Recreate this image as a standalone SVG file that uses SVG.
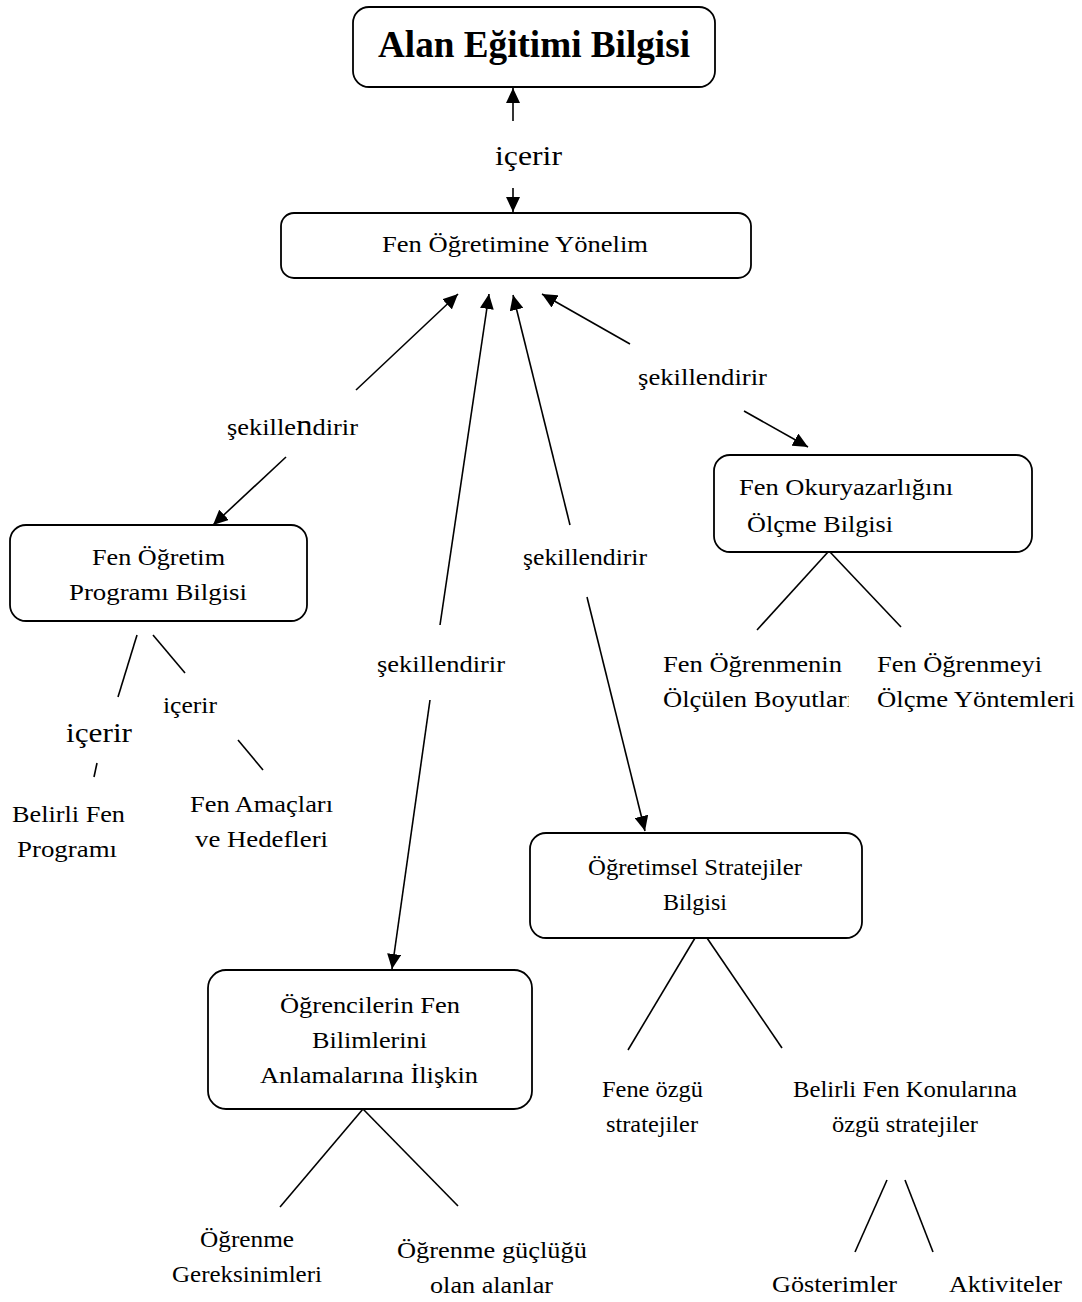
<svg xmlns="http://www.w3.org/2000/svg" width="1082" height="1302" viewBox="0 0 1082 1302" font-family="'Liberation Serif', 'Times New Roman', Times, serif">
  <style>
    .box { fill: #ffffff; stroke: #000000; stroke-width: 1.8; }
    .ln { stroke: #000000; stroke-width: 1.6; fill: none; }
    .arr { stroke: #000000; stroke-width: 1.6; fill: none; marker-end: url(#head); }
    .t { font-family: 'Liberation Serif', 'Times New Roman', Times, serif; font-size: 24px; fill: #000000; }
    .big { font-family: 'Liberation Serif', 'Times New Roman', Times, serif; font-size: 27px; fill: #000000; }
    .title { font-family: 'Liberation Serif', 'Times New Roman', Times, serif; font-size: 37px; font-weight: bold; fill: #000000; }
  </style>
  <defs>
    <marker id="head" markerUnits="userSpaceOnUse" markerWidth="16" markerHeight="14" refX="15" refY="7" orient="auto">
      <path d="M0,0 L15,7 L0,14 z" fill="#000000"/>
    </marker>
    <clipPath id="cutBoyut">
      <rect x="600" y="680" width="249" height="40"/>
    </clipPath>
  </defs>

  <!-- connectors -->
  <g id="connectors">
    <line class="arr" x1="513" y1="121" x2="513" y2="88"/>
    <line class="arr" x1="513" y1="188" x2="513" y2="212"/>
    <line class="arr" x1="356" y1="390" x2="458" y2="294"/>
    <line class="arr" x1="440" y1="625" x2="489" y2="294"/>
    <line class="arr" x1="570" y1="525" x2="513" y2="295"/>
    <line class="arr" x1="630" y1="344" x2="542" y2="294"/>
    <line class="arr" x1="286" y1="457" x2="213" y2="525"/>
    <line class="arr" x1="744" y1="411" x2="808" y2="447"/>
    <line class="arr" x1="430" y1="700" x2="392" y2="969"/>
    <line class="arr" x1="587" y1="597" x2="645" y2="831"/>

    <line class="ln" x1="828" y1="552" x2="757" y2="630"/>
    <line class="ln" x1="830" y1="552" x2="901" y2="627"/>
    <line class="ln" x1="137" y1="635" x2="118" y2="697"/>
    <line class="ln" x1="153" y1="635" x2="185" y2="673"/>
    <line class="ln" x1="97" y1="763" x2="94" y2="777"/>
    <line class="ln" x1="238" y1="740" x2="263" y2="770"/>
    <line class="ln" x1="695" y1="938" x2="628" y2="1050"/>
    <line class="ln" x1="707" y1="938" x2="782" y2="1048"/>
    <line class="ln" x1="363" y1="1109" x2="280" y2="1207"/>
    <line class="ln" x1="363" y1="1109" x2="458" y2="1206"/>
    <line class="ln" x1="887" y1="1180" x2="855" y2="1252"/>
    <line class="ln" x1="905" y1="1180" x2="933" y2="1252"/>
  </g>

  <!-- connector labels -->
  <g id="labels">
    <text class="big" x="495" y="165" textLength="67" lengthAdjust="spacingAndGlyphs">içerir</text>
    <text class="t" x="227" y="435" textLength="131" lengthAdjust="spacingAndGlyphs">şekille<tspan font-size="30">n</tspan>dirir</text>
    <text class="t" x="638" y="385" textLength="129" lengthAdjust="spacingAndGlyphs">şekillendirir</text>
    <text class="t" x="523" y="565" textLength="124" lengthAdjust="spacingAndGlyphs">şekillendirir</text>
    <text class="t" x="377" y="672" textLength="128" lengthAdjust="spacingAndGlyphs">şekillendirir</text>
    <text class="t" x="163" y="713" textLength="54" lengthAdjust="spacingAndGlyphs">içerir</text>
    <text class="big" x="66" y="742" textLength="66" lengthAdjust="spacingAndGlyphs">içerir</text>
  </g>

  <g id="node-alan">
    <rect class="box" x="353" y="7" width="362" height="80" rx="16"/>
    <text class="title" x="378" y="57" textLength="312" lengthAdjust="spacingAndGlyphs">Alan Eğitimi Bilgisi</text>
  </g>

  <g id="node-yonelim">
    <rect class="box" x="281" y="213" width="470" height="65" rx="13"/>
    <text class="t" x="382" y="252" textLength="266" lengthAdjust="spacingAndGlyphs">Fen Öğretimine Yönelim</text>
  </g>

  <g id="node-program">
    <rect class="box" x="10" y="525" width="297" height="96" rx="16"/>
    <text class="t" x="92" y="565" textLength="133" lengthAdjust="spacingAndGlyphs">Fen Öğretim</text>
    <text class="t" x="69" y="600" textLength="178" lengthAdjust="spacingAndGlyphs">Programı Bilgisi</text>
  </g>

  <g id="node-belirli-program">
    <text class="t" x="12" y="822" textLength="113" lengthAdjust="spacingAndGlyphs">Belirli Fen</text>
    <text class="t" x="17" y="857" textLength="100" lengthAdjust="spacingAndGlyphs">Programı</text>
  </g>

  <g id="node-amaclar">
    <text class="t" x="190" y="812" textLength="143" lengthAdjust="spacingAndGlyphs">Fen Amaçları</text>
    <text class="t" x="195" y="847" textLength="133" lengthAdjust="spacingAndGlyphs">ve Hedefleri</text>
  </g>

  <g id="node-olcme">
    <rect class="box" x="714" y="455" width="318" height="97" rx="16"/>
    <text class="t" x="739" y="495" textLength="214" lengthAdjust="spacingAndGlyphs">Fen Okuryazarlığını</text>
    <text class="t" x="747" y="532" textLength="146" lengthAdjust="spacingAndGlyphs">Ölçme Bilgisi</text>
  </g>

  <g id="node-boyutlar">
    <text class="t" x="663" y="672" textLength="179" lengthAdjust="spacingAndGlyphs">Fen Öğrenmenin</text>
    <text class="t" x="663" y="707" textLength="191" lengthAdjust="spacingAndGlyphs" clip-path="url(#cutBoyut)">Ölçülen Boyutları</text>
  </g>

  <g id="node-yontemler">
    <text class="t" x="877" y="672" textLength="165" lengthAdjust="spacingAndGlyphs">Fen Öğrenmeyi</text>
    <text class="t" x="877" y="707" textLength="198" lengthAdjust="spacingAndGlyphs">Ölçme Yöntemleri</text>
  </g>

  <g id="node-stratejiler">
    <rect class="box" x="530" y="833" width="332" height="105" rx="16"/>
    <text class="t" x="588" y="875" textLength="214" lengthAdjust="spacingAndGlyphs">Öğretimsel Stratejiler</text>
    <text class="t" x="663" y="910" textLength="64" lengthAdjust="spacingAndGlyphs">Bilgisi</text>
  </g>

  <g id="node-fene-ozgu">
    <text class="t" x="602" y="1097" textLength="101" lengthAdjust="spacingAndGlyphs">Fene özgü</text>
    <text class="t" x="606" y="1132" textLength="92" lengthAdjust="spacingAndGlyphs">stratejiler</text>
  </g>

  <g id="node-konulara-ozgu">
    <text class="t" x="793" y="1097" textLength="224" lengthAdjust="spacingAndGlyphs">Belirli Fen Konularına</text>
    <text class="t" x="832" y="1132" textLength="146" lengthAdjust="spacingAndGlyphs">özgü stratejiler</text>
  </g>

  <g id="node-gosterimler">
    <text class="t" x="772" y="1292" textLength="125" lengthAdjust="spacingAndGlyphs">Gösterimler</text>
  </g>

  <g id="node-aktiviteler">
    <text class="t" x="949" y="1292" textLength="113" lengthAdjust="spacingAndGlyphs">Aktiviteler</text>
  </g>

  <g id="node-anlama">
    <rect class="box" x="208" y="970" width="324" height="139" rx="18"/>
    <text class="t" x="280" y="1013" textLength="180" lengthAdjust="spacingAndGlyphs">Öğrencilerin Fen</text>
    <text class="t" x="312" y="1048" textLength="115" lengthAdjust="spacingAndGlyphs">Bilimlerini</text>
    <text class="t" x="260" y="1083" textLength="218" lengthAdjust="spacingAndGlyphs">Anlamalarına İlişkin</text>
  </g>

  <g id="node-gereksinimler">
    <text class="t" x="200" y="1247" textLength="94" lengthAdjust="spacingAndGlyphs">Öğrenme</text>
    <text class="t" x="172" y="1282" textLength="150" lengthAdjust="spacingAndGlyphs">Gereksinimleri</text>
  </g>

  <g id="node-guclugu">
    <text class="t" x="397" y="1258" textLength="190" lengthAdjust="spacingAndGlyphs">Öğrenme güçlüğü</text>
    <text class="t" x="430" y="1293" textLength="123" lengthAdjust="spacingAndGlyphs">olan alanlar</text>
  </g>
</svg>
